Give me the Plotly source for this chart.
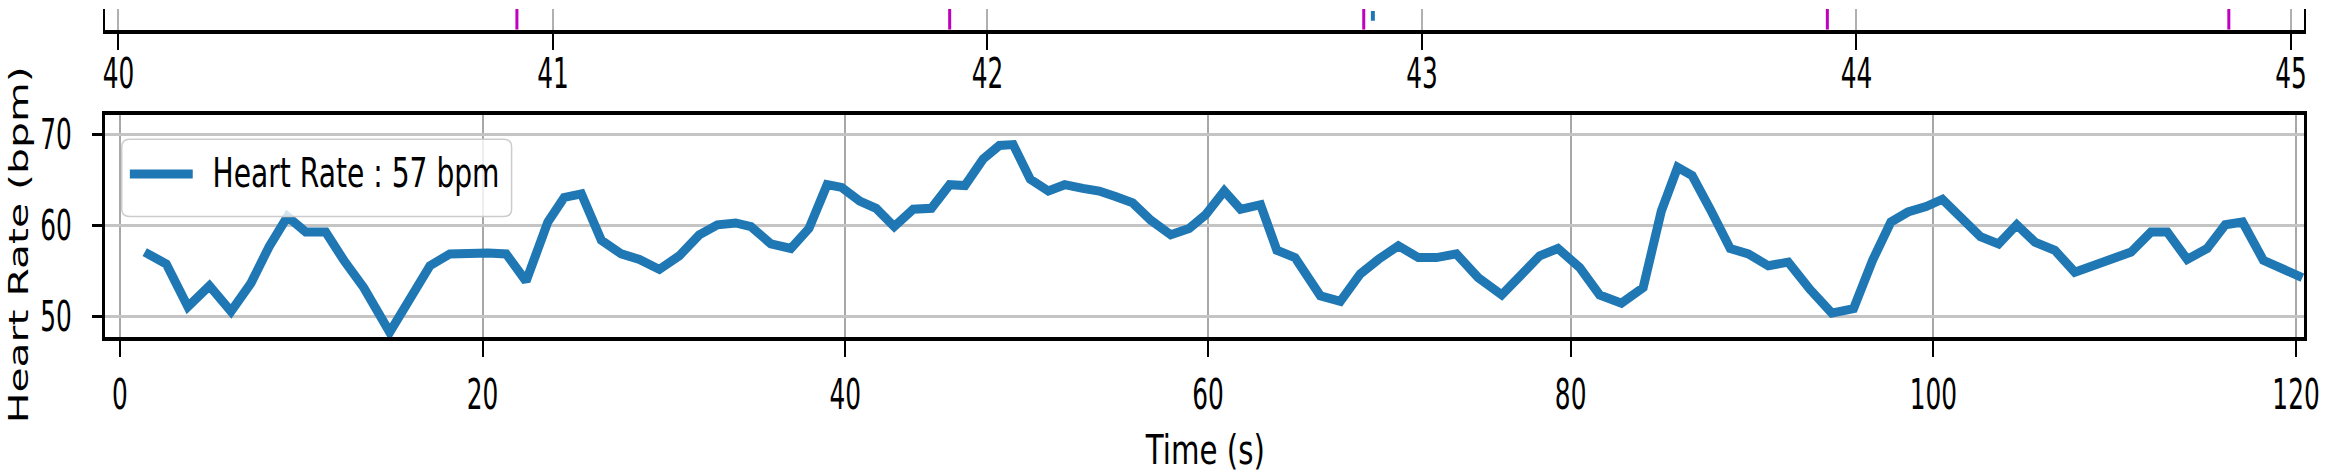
"""Heart rate trace with R-peak strip above it, rebuilt with Plotly."""

import json

import plotly.graph_objects as go

# ---- data ----
time_s = [
    1.37, 2.56, 3.75, 4.94, 6.13, 7.23, 8.23, 9.24, 10.25, 11.35, 12.35, 13.45, 14.88,
    16.0, 17.1, 18.2, 19.3, 20.3, 21.3, 22.4, 23.6,
    24.5, 25.45, 26.55, 27.65, 28.65, 29.75, 30.85, 31.95, 32.95, 33.96, 34.8, 35.9,
    37.0, 38.0, 39.0, 39.8, 40.8, 41.7, 42.7, 43.75, 44.75, 45.76, 46.6, 47.6,
    48.5, 49.26, 50.2, 51.2, 52.1, 53.1, 54.0, 54.9, 55.85, 56.85, 57.95, 58.96,
    59.87, 60.9, 61.8, 62.9, 63.8, 64.8, 66.2, 67.3, 68.4, 69.4, 70.5, 71.6,
    72.6, 73.7, 74.9, 76.2, 77.2, 78.3, 79.3, 80.5, 81.6, 82.8, 84.0, 85.0,
    85.9, 86.7, 87.7, 88.8, 89.8, 90.9, 92.0, 93.2, 94.4, 95.6,
    96.65, 97.66, 98.6, 99.6, 100.5, 101.5, 102.6, 103.6, 104.6, 105.6, 106.7, 107.8,
    108.8, 109.9, 110.9, 112.0, 112.9, 114.0, 115.1, 116.1, 117.05, 118.2, 119.25, 120.35,
]
heart_rate = [
    57.1, 55.8, 51.1, 53.4, 50.6, 53.7, 57.7, 61.0, 59.3, 59.3, 56.2, 53.2, 48.3,
    51.9, 55.6, 56.9, 57.0, 57.0, 56.9, 53.9, 60.4,
    63.1, 63.5, 58.4, 56.9, 56.3, 55.2, 56.7, 59.0, 60.1, 60.3, 59.9, 58.0,
    57.5, 59.7, 64.5, 64.2, 62.7, 61.9, 59.9, 61.8, 61.9, 64.5, 64.4, 67.3,
    68.8, 68.9, 65.1, 63.8, 64.5, 64.1, 63.8, 63.2, 62.5, 60.6, 59.0, 59.7,
    61.2, 63.8, 61.8, 62.3, 57.3, 56.5, 52.3, 51.7, 54.7, 56.3, 57.8, 56.5,
    56.5, 56.9, 54.3, 52.4, 54.3, 56.7, 57.5, 55.4, 52.4, 51.5, 53.2, 61.6,
    66.4, 65.5, 61.8, 57.5, 56.9, 55.6, 56.0, 53.0, 50.4, 50.9,
    56.2, 60.4, 61.5, 62.1, 62.9, 60.8, 58.8, 58.0, 60.1, 58.2, 57.3, 54.9,
    55.6, 56.3, 57.1, 59.3, 59.3, 56.3, 57.5, 60.1, 60.4, 56.2, 55.4, 54.3,
]
legend_label = "Heart Rate : 57 bpm"
x_title = "Time (s)"
y_title = "Heart Rate (bpm)"

# detected beats in the 40-45 s window (top strip)
r_peaks = [40.917, 41.913, 42.866, 43.933, 44.857]
other_marks = [42.887]

hr_ticks = [50, 60, 70]
time_ticks = [0, 20, 40, 60, 80, 100, 120]
window_ticks = [40, 41, 42, 43, 44, 45]

BLUE = "#1f77b4"
MAGENTA = "#bf00bf"
FONT = "DejaVu Sans"


def vlines(xs, y0, y1):
    xx, yy = [], []
    for v in xs:
        xx += [v, v, None]
        yy += [y0, y1, None]
    return xx, yy


fig = go.Figure()

fig.add_trace(go.Scatter(
    x=time_s, y=heart_rate, mode="lines", name=legend_label,
    line=dict(color=BLUE, width=9), xaxis="x", yaxis="y", showlegend=False,
))

px_, py_ = vlines(r_peaks, 0, 1)
fig.add_trace(go.Scatter(x=px_, y=py_, mode="lines", line=dict(color=MAGENTA, width=3),
                         xaxis="x2", yaxis="y2", showlegend=False))
bx_, by_ = vlines(other_marks, 0.43, 0.9)
fig.add_trace(go.Scatter(x=bx_, y=by_, mode="lines", line=dict(color=BLUE, width=4),
                         xaxis="x2", yaxis="y2", showlegend=False))

axis_common = dict(
    showline=True, linecolor="black", ticks="outside", tickcolor="black",
    zeroline=False, tickfont=dict(family=FONT, size=42, color="black"),
)

fig.update_layout(
    width=2341, height=476,
    margin=dict(l=105, r=30, t=5, b=139),
    paper_bgcolor="white", plot_bgcolor="white",
    showlegend=False,
    font=dict(family=FONT),
    xaxis=dict(
        **axis_common, domain=[0, 1], anchor="y", range=[-0.82, 120.44],
        tickvals=time_ticks, ticklen=16, tickwidth=2, linewidth=3.5, mirror=True,
        showgrid=True, gridcolor="#a8a8a8", gridwidth=1.5, ticklabelstandoff=2,
        ticklabeloverflow="allow",
    ),
    yaxis=dict(
        **axis_common, domain=[0, 0.6777], anchor="x", range=[47.78, 72.18],
        tickvals=hr_ticks, ticklen=10, tickwidth=3, linewidth=2.5, mirror=True,
        showgrid=True, gridcolor="#c4c4c4", gridwidth=3, ticklabelstandoff=12,
    ),
    xaxis2=dict(
        **axis_common, domain=[0, 1], anchor="y2", range=[39.969, 45.03],
        tickvals=window_ticks, ticklen=16, tickwidth=2, linewidth=3.5,
        showgrid=True, gridcolor="#b0b0b0", gridwidth=1.5, ticklabelstandoff=-12,
        ticklabeloverflow="allow",
    ),
    yaxis2=dict(
        domain=[0.9367, 1], anchor="x2", range=[0, 1], showline=True, mirror=True,
        linecolor="black", linewidth=2, showgrid=False, zeroline=False,
        showticklabels=False, ticks="",
    ),
)

# legend box drawn by hand so the sample line matches the reference length
x0, x1, y0, y1 = 0.0076, 0.1849, 0.542, 0.890
rx, ry = 0.0036, 0.035
box = (f"M {x0+rx},{y0} L {x1-rx},{y0} Q {x1},{y0} {x1},{y0+ry} L {x1},{y1-ry} "
       f"Q {x1},{y1} {x1-rx},{y1} L {x0+rx},{y1} Q {x0},{y1} {x0},{y1-ry} "
       f"L {x0},{y0+ry} Q {x0},{y0} {x0+rx},{y0} Z")
fig.add_shape(type="path", path=box, xref="x domain", yref="y domain",
              fillcolor="rgba(255,255,255,0.8)", line=dict(color="#cccccc", width=1.5),
              layer="above")
fig.add_shape(type="line", xref="x domain", yref="y domain", x0=0.0113, x1=0.0399,
              y0=0.733, y1=0.733, line=dict(color=BLUE, width=9), layer="above")
fig.add_annotation(text=legend_label, xref="x domain", yref="y domain", x=0.114, y=0.74,
                   xanchor="center", yanchor="middle", showarrow=False,
                   font=dict(family=FONT, size=40, color="black"))

fig.add_annotation(text=x_title, xref="paper", yref="paper", x=0.5, y=-0.346,
                   xanchor="center", yanchor="middle", showarrow=False,
                   font=dict(family=FONT, size=41, color="black"))
fig.add_annotation(text=y_title, xref="paper", yref="paper", x=-0.039, y=0.280,
                   xanchor="center", yanchor="middle", showarrow=False, textangle=-90,
                   font=dict(family=FONT, size=26, color="black"))

# the source image is squeezed horizontally: narrow the lettering to the
# widths measured there (the rotated title is stretched along its length instead)
text_lengths = {legend_label: 287, x_title: 119, y_title: 357}
digit_width = 15.8

post = """
document.body.style.margin = '0';
var gd = document.getElementById('{plot_id}');
var lengths = %s;
gd.querySelectorAll('text').forEach(function (t) {
    var s = t.textContent;
    var L = null;
    if (lengths.hasOwnProperty(s)) { L = lengths[s]; }
    else if (t.closest('.xtick, .ytick, .x2tick')) { L = s.length * %s; }
    if (L) {
        t.setAttribute('textLength', L);
        t.setAttribute('lengthAdjust', 'spacingAndGlyphs');
    }
});
""" % (json.dumps(text_lengths), digit_width)

fig.write_html("out.html", post_script=post, config={"displayModeBar": False})
